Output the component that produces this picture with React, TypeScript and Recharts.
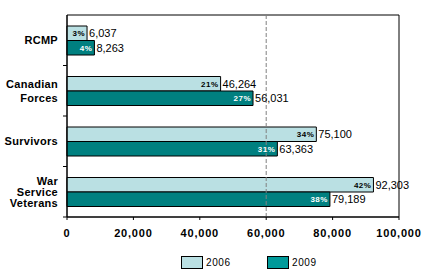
import React from 'react';
import {
  BarChart, Bar, XAxis, YAxis, ReferenceLine, ReferenceArea, LabelList,
} from 'recharts';

const categories = [['RCMP'], ['Canadian', 'Forces'], ['Survivors'], ['War', 'Service', 'Veterans']];
const values2006 = [6037, 46264, 75100, 92303];
const values2009 = [8263, 56031, 63363, 79189];
const pct2006 = ['3%', '21%', '34%', '42%'];
const pct2009 = ['4%', '27%', '31%', '38%'];
const xTicks = [0, 20000, 40000, 60000, 80000, 100000];

const COLOR_2006 = '#BAE0E3';
const COLOR_2009 = '#008080';
const COLOR_2009_LEGEND = '#009A9A';
const FONT = '"Liberation Sans", Arial, sans-serif';

const W = 429;
const H = 279;
const MARGIN = { top: 15, right: 30, left: 0, bottom: 0 };
const X_AXIS_H = 62;
const Y_AXIS_W = 67;
const BAND = (H - MARGIN.top - X_AXIS_H) / categories.length;

const data = categories.map((c, i) => ({
  name: c.join(' '),
  y2006: values2006[i],
  y2009: values2009[i],
}));

const CategoryTick: React.FC<any> = (props) => {
  const { x, y, payload } = props;
  const lines: string[] = categories[payload.index] || [payload.value];
  const step = lines.length === 3 ? 11 : 14.5;
  const start = -((lines.length - 1) * step) / 2;
  return (
    <g transform={`translate(${x},${y})`}>
      {lines.map((l, i) => (
        <text key={l} x={-9} y={start + i * step} dy={4} textAnchor="end" fill="#000"
          fontFamily={FONT} fontWeight="bold" fontSize={11} letterSpacing={0.3}>
          {l}
        </text>
      ))}
      <line x1={-4} x2={0} y1={BAND / 2} y2={BAND / 2} stroke="#000" />
    </g>
  );
};

const ValueTick: React.FC<any> = (props) => {
  const { x, y, payload } = props;
  return (
    <text x={x} y={y} dy={15} textAnchor="middle" fill="#000" fontFamily={FONT}
      fontWeight="bold" fontSize={11} letterSpacing={0.8}>
      {payload.value.toLocaleString('en-US')}
    </text>
  );
};

const makeLabel = (pcts: string[], pctColor: string) => (props: any) => {
  const { x, y, width, height, index, value } = props;
  const end = x + width;
  const cy = y + height / 2;
  return (
    <g>
      <text x={end - 2} y={cy} dy={3} textAnchor="end" fill={pctColor} fontFamily={FONT}
        fontWeight="bold" fontSize={8} letterSpacing={0.5}>
        {pcts[index]}
      </text>
      <text x={end + 2} y={cy} dy={4} textAnchor="start" fill="#000" fontFamily={FONT}
        fontSize={11}>
        {Number(value).toLocaleString('en-US')}
      </text>
    </g>
  );
};

const LegendItem: React.FC<{ color: string; label: string; left: number }> = ({ color, label, left }) => (
  <div style={{ position: 'absolute', left, top: 256, display: 'flex', alignItems: 'center' }}>
    <div style={{ width: 20, height: 11, background: color, border: '1px solid #000' }} />
    <span style={{ marginLeft: 3, fontFamily: FONT, fontSize: 10, letterSpacing: 0.6, color: '#000' }}>{label}</span>
  </div>
);

export default function App() {
  return (
    <div style={{ position: 'absolute', left: 0, top: 0, width: W, height: H, background: '#fff' }}>
      <BarChart width={W} height={H} data={data} layout="vertical" margin={MARGIN}
        barGap={0} barSize={14.5}>
        <XAxis type="number" domain={[0, 100000]} ticks={xTicks} height={X_AXIS_H}
          axisLine={{ stroke: '#000' }} tickLine={{ stroke: '#000' }} tickSize={3}
          tick={<ValueTick />} interval={0} />
        <YAxis type="category" dataKey="name" width={Y_AXIS_W} axisLine={{ stroke: '#000' }}
          tickLine={false} tickSize={0} tickMargin={0} tick={<CategoryTick />} interval={0} />
        <ReferenceArea x1={0} x2={100000} fill="none" stroke="#000" ifOverflow="visible" />
        <ReferenceLine x={60000} stroke="#808080" strokeDasharray="4 2" />
        <Bar dataKey="y2006" fill={COLOR_2006} stroke="#000" strokeWidth={1} isAnimationActive={false}>
          <LabelList dataKey="y2006" content={makeLabel(pct2006, '#000')} />
        </Bar>
        <Bar dataKey="y2009" fill={COLOR_2009} stroke="#000" strokeWidth={1} isAnimationActive={false}>
          <LabelList dataKey="y2009" content={makeLabel(pct2009, '#fff')} />
        </Bar>
      </BarChart>
      <LegendItem color={COLOR_2006} label="2006" left={181} />
      <LegendItem color={COLOR_2009_LEGEND} label="2009" left={267} />
    </div>
  );
}
